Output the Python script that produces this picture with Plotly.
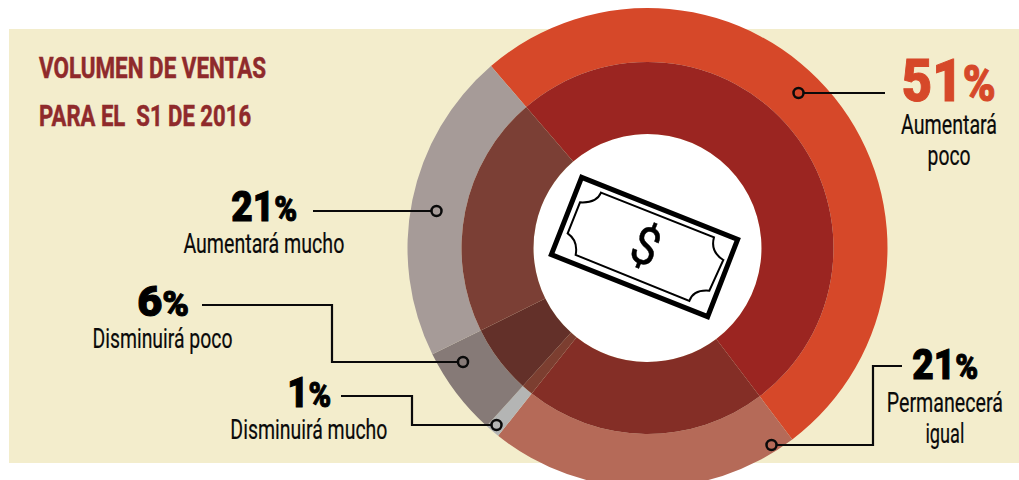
import json
import plotly.graph_objects as go

labels = ["Aumentará poco", "Permanecerá igual", "Disminuirá mucho", "Disminuirá poco", "Aumentará mucho"]
values = [51, 21, 1, 6, 21]
outer_colors = ["#D64829", "#B56A58", "#B4B5B4", "#867A77", "#A69B98"]
inner_colors = ["#9B2521", "#842E26", "#7C3E30", "#633029", "#7B3F35"]

W, H = 1019, 496
CX, CY = 647.5, 248
R_OUT, R_MID, R_IN = 240, 186, 114
ROT = -40.7

def fx(x): return x / W
def fy(y): return 1 - y / H

def dom(r):
    return dict(x=[fx(CX - r), fx(CX + r)], y=[fy(CY + r), fy(CY - r)])

fig = go.Figure()
fig.add_trace(go.Pie(labels=labels, values=values, sort=False, direction="clockwise", rotation=ROT,
                     hole=R_MID / R_OUT, domain=dom(R_OUT), textinfo="none", hoverinfo="label+value",
                     marker=dict(colors=outer_colors, line=dict(width=0)), showlegend=False))
fig.add_trace(go.Pie(labels=labels, values=values, sort=False, direction="clockwise", rotation=ROT,
                     hole=R_IN / R_MID, domain=dom(R_MID), textinfo="none", hoverinfo="label+value",
                     marker=dict(colors=inner_colors, line=dict(width=0)), showlegend=False))

shapes = []
shapes.append(dict(type="rect", xref="paper", yref="paper", layer="below", x0=fx(9), x1=1, y0=fy(463), y1=fy(29),
                   fillcolor="#F3EDCC", line=dict(width=0)))
shapes.append(dict(type="circle", xref="paper", yref="paper", layer="below", x0=fx(CX - R_IN), x1=fx(CX + R_IN),
                   y0=fy(CY + R_IN), y1=fy(CY - R_IN), fillcolor="#FFFFFF", line=dict(width=0)))

def path(points, close=False):
    s = "M " + " L ".join(f"{fx(x):.5f},{fy(y):.5f}" for x, y in points)
    return s + (" Z" if close else "")

connectors = [
    ([(313, 211), (431, 211)], (436.5, 211)),
    ([(202, 305), (332, 305), (332, 362), (458, 362)], (463, 362)),
    ([(341, 396), (412, 396), (412, 425), (491, 425)], (496.5, 425)),
    ([(885, 93), (804, 93)], (798.5, 93)),
    ([(902, 366), (873, 366), (873, 445), (777, 445)], (771.5, 445)),
]
for pts, dot in connectors:
    shapes.append(dict(type="path", xref="paper", yref="paper", layer="above", path=path(pts),
                       line=dict(color="#0A0A0A", width=2.2)))
    r = 5
    shapes.append(dict(type="circle", xref="paper", yref="paper", layer="above",
                       x0=fx(dot[0] - r), x1=fx(dot[0] + r), y0=fy(dot[1] + r), y1=fy(dot[1] - r),
                       line=dict(color="#0A0A0A", width=2.5), fillcolor="rgba(0,0,0,0)"))

def z(x, y): return (400 + x / 3, y / 3)
shapes.append(dict(type="path", xref="paper", yref="paper", layer="above",
                   path=path([z(545, 532), z(1013, 718), z(923, 950), z(454, 764)], True),
                   line=dict(color="#000000", width=5), fillcolor="#FFFFFF"))
def zs(x, y):
    a, b = z(x, y)
    return f"{fx(a):.5f},{fy(b):.5f}"
note = (f"M {zs(603,578)} L {zs(942,712)} Q {zs(930,755)} {zs(970,780)} L {zs(928,872)} "
        f"Q {zs(880,868)} {zs(868,903)} L {zs(527,765)} Q {zs(535,722)} {zs(503,700)} "
        f"L {zs(540,607)} Q {zs(590,610)} {zs(603,578)} Z")
shapes.append(dict(type="path", xref="paper", yref="paper", layer="above", path=note,
                   line=dict(color="#000000", width=2)))

FONT = "Roboto"
targets = []
def ann(text, x, y, size, width, color="#0A0A0A", weight=400, anchor="center", angle=0, stroke=0.2):
    targets.append([width, anchor, stroke, color])
    return dict(text=text, x=fx(x), y=fy(y), xref="paper", yref="paper",
                xanchor=anchor, yanchor="middle", showarrow=False, textangle=angle,
                font=dict(family=FONT, size=size, color=color, weight=weight))

def big(num, x, y, size, width, color="#000000"):
    return ann(f"{num}<span style='font-size:{size*0.84:.0f}px'>%</span>", x, y, size, width, color, 900, stroke=1.0)

texts = [
    ann("VOLUMEN DE VENTAS", 36.5, 68.3, 29, 227, "#8F2A2B", 700, "left", stroke=0.5),
    ann("PARA EL  S1 DE 2016", 36.5, 116, 29, 212, "#8F2A2B", 700, "left", stroke=0.5),
    big("21", 264, 206.7, 42, 66),
    ann("Aumentará mucho", 264, 244, 27, 161),
    big("6", 162.5, 301.7, 42, 52),
    ann("Disminuirá poco", 162.5, 339, 27, 140),
    big("1", 308.7, 392.7, 42, 44),
    ann("Disminuirá mucho", 309, 430, 27, 157),
    big("51", 948.7, 80.7, 59, 94, "#D64829"),
    ann("Aumentará", 948.8, 125, 27, 96),
    ann("poco", 949, 156, 27, 43),
    big("21", 945, 364.5, 42, 66),
    ann("Permanecerá", 945, 402.7, 27, 116),
    ann("igual", 945, 434, 27, 39),
    ann("$", 645.7, 246.7, 52, 27, "#000000", 400, "center", 22, stroke=0.5),
]

fig.update_layout(width=W, height=H, margin=dict(l=0, r=0, t=0, b=0), paper_bgcolor="#FFFFFF",
                  showlegend=False, shapes=shapes, annotations=texts)

post = """
document.body.style.margin='0';document.documentElement.style.overflow='hidden';document.body.style.overflow='hidden';
var targets=%s;
function condense(){document.querySelectorAll('g.annotation').forEach(function(g){
  var i=+g.getAttribute('data-index');var t=g.querySelector('text');if(!t||!targets[i])return;
  var b=t.getBBox();var c=targets[i][1]==='left'?b.x:b.x+b.width/2;var s=targets[i][0]/b.width;
  t.setAttribute('transform','translate('+c+' 0) scale('+s+' 1) translate('+(-c)+' 0)');
  t.style.stroke=targets[i][3];t.style.strokeWidth=targets[i][2]+'px';});}
condense();setTimeout(condense,100);
""" % json.dumps(targets)
fig.write_html("out.html", config={"displayModeBar": False}, post_script=post)
